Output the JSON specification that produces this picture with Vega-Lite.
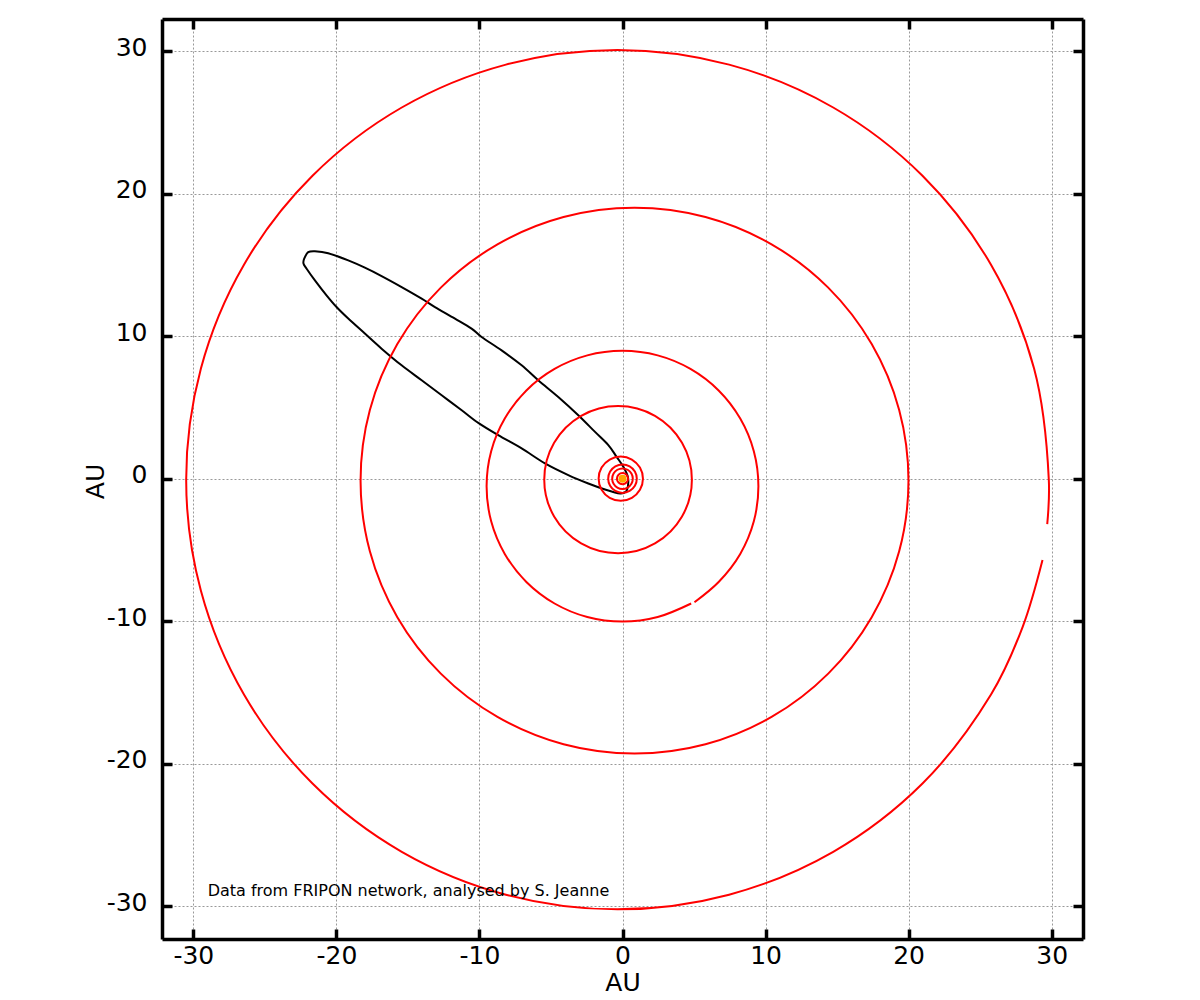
{
  "$schema": "https://vega.github.io/schema/vega-lite/v6.json",
  "description": "Heliocentric orbit of a FRIPON meteoroid with planetary orbits, in AU.",
  "width": 921,
  "height": 920,
  "autosize": {"type": "none"},
  "padding": {"left": 162, "top": 19, "right": 117, "bottom": 61},
  "background": "white",
  "config": {
    "view": {"stroke": null},
    "axis": {
      "domainColor": "black",
      "domainWidth": 3.5,
      "tickColor": "black",
      "tickWidth": 3.5,
      "tickSize": -10,
      "labelFont": "DejaVu Sans",
      "labelFontSize": 25,
      "labelColor": "black",
      "titleFont": "DejaVu Sans",
      "titleFontSize": 25,
      "titleFontWeight": "normal",
      "titleColor": "black",
      "gridColor": "#999999",
      "gridDash": [2, 2],
      "gridWidth": 1
    }
  },
  "datasets": {
    "meteoroid": [
      {"i": 1, "x": 0.38, "y": -0.53},
      {"i": 2, "x": 0.38, "y": 0.1},
      {"i": 3, "x": 0.06, "y": 0.83},
      {"i": 4, "x": -0.41, "y": 1.53},
      {"i": 5, "x": -0.99, "y": 2.35},
      {"i": 6, "x": -1.92, "y": 3.28},
      {"i": 7, "x": -3.09, "y": 4.45},
      {"i": 8, "x": -4.49, "y": 5.73},
      {"i": 9, "x": -5.89, "y": 6.9},
      {"i": 10, "x": -7.05, "y": 7.95},
      {"i": 11, "x": -8.45, "y": 9.0},
      {"i": 12, "x": -9.85, "y": 9.94},
      {"i": 13, "x": -10.55, "y": 10.53},
      {"i": 14, "x": -11.71, "y": 11.23},
      {"i": 15, "x": -13.11, "y": 12.04},
      {"i": 16, "x": -14.04, "y": 12.63},
      {"i": 17, "x": -15.44, "y": 13.44},
      {"i": 18, "x": -16.84, "y": 14.21},
      {"i": 19, "x": -18.01, "y": 14.8},
      {"i": 20, "x": -19.17, "y": 15.31},
      {"i": 21, "x": -20.57, "y": 15.82},
      {"i": 22, "x": -21.5, "y": 15.96},
      {"i": 23, "x": -21.97, "y": 15.89},
      {"i": 24, "x": -22.25, "y": 15.43},
      {"i": 25, "x": -22.3, "y": 15.1},
      {"i": 26, "x": -22.08, "y": 14.73},
      {"i": 27, "x": -21.5, "y": 13.91},
      {"i": 28, "x": -20.69, "y": 12.86},
      {"i": 29, "x": -19.99, "y": 12.04},
      {"i": 30, "x": -19.17, "y": 11.23},
      {"i": 31, "x": -18.01, "y": 10.18},
      {"i": 32, "x": -16.84, "y": 9.12},
      {"i": 33, "x": -15.44, "y": 7.95},
      {"i": 34, "x": -14.04, "y": 6.9},
      {"i": 35, "x": -12.64, "y": 5.85},
      {"i": 36, "x": -11.24, "y": 4.8},
      {"i": 37, "x": -10.08, "y": 3.91},
      {"i": 38, "x": -8.69, "y": 3.05},
      {"i": 39, "x": -7.05, "y": 2.12},
      {"i": 40, "x": -5.42, "y": 1.07},
      {"i": 41, "x": -3.79, "y": 0.25},
      {"i": 42, "x": -2.39, "y": -0.34},
      {"i": 43, "x": -1.22, "y": -0.76},
      {"i": 44, "x": -0.17, "y": -1.04},
      {"i": 45, "x": 0.25, "y": -0.9}
    ],
    "closedOrbits": [
      {"orbit": "Uranus", "i": 0, "x": 19.99, "y": -0.14},
      {"orbit": "Uranus", "i": 1, "x": 19.34, "y": 4.82},
      {"orbit": "Uranus", "i": 2, "x": 17.42, "y": 9.44},
      {"orbit": "Uranus", "i": 3, "x": 14.38, "y": 13.4},
      {"orbit": "Uranus", "i": 4, "x": 10.42, "y": 16.44},
      {"orbit": "Uranus", "i": 5, "x": 5.8, "y": 18.36},
      {"orbit": "Uranus", "i": 6, "x": 0.84, "y": 19.01},
      {"orbit": "Uranus", "i": 7, "x": -4.12, "y": 18.36},
      {"orbit": "Uranus", "i": 8, "x": -8.74, "y": 16.44},
      {"orbit": "Uranus", "i": 9, "x": -12.7, "y": 13.4},
      {"orbit": "Uranus", "i": 10, "x": -15.74, "y": 9.44},
      {"orbit": "Uranus", "i": 11, "x": -17.66, "y": 4.82},
      {"orbit": "Uranus", "i": 12, "x": -18.31, "y": -0.14},
      {"orbit": "Uranus", "i": 13, "x": -17.66, "y": -5.1},
      {"orbit": "Uranus", "i": 14, "x": -15.74, "y": -9.72},
      {"orbit": "Uranus", "i": 15, "x": -12.7, "y": -13.68},
      {"orbit": "Uranus", "i": 16, "x": -8.74, "y": -16.72},
      {"orbit": "Uranus", "i": 17, "x": -4.12, "y": -18.64},
      {"orbit": "Uranus", "i": 18, "x": 0.84, "y": -19.29},
      {"orbit": "Uranus", "i": 19, "x": 5.8, "y": -18.64},
      {"orbit": "Uranus", "i": 20, "x": 10.42, "y": -16.72},
      {"orbit": "Uranus", "i": 21, "x": 14.38, "y": -13.68},
      {"orbit": "Uranus", "i": 22, "x": 17.42, "y": -9.72},
      {"orbit": "Uranus", "i": 23, "x": 19.34, "y": -5.1},
      {"orbit": "Jupiter", "i": 0, "x": 4.85, "y": -0.07},
      {"orbit": "Jupiter", "i": 1, "x": 4.16, "y": 2.51},
      {"orbit": "Jupiter", "i": 2, "x": 2.27, "y": 4.4},
      {"orbit": "Jupiter", "i": 3, "x": -0.31, "y": 5.09},
      {"orbit": "Jupiter", "i": 4, "x": -2.89, "y": 4.4},
      {"orbit": "Jupiter", "i": 5, "x": -4.78, "y": 2.51},
      {"orbit": "Jupiter", "i": 6, "x": -5.47, "y": -0.07},
      {"orbit": "Jupiter", "i": 7, "x": -4.78, "y": -2.65},
      {"orbit": "Jupiter", "i": 8, "x": -2.89, "y": -4.54},
      {"orbit": "Jupiter", "i": 9, "x": -0.31, "y": -5.23},
      {"orbit": "Jupiter", "i": 10, "x": 2.27, "y": -4.54},
      {"orbit": "Jupiter", "i": 11, "x": 4.16, "y": -2.65},
      {"orbit": "Mars", "i": 0, "x": 1.43, "y": 0},
      {"orbit": "Mars", "i": 1, "x": 1.22, "y": 0.775},
      {"orbit": "Mars", "i": 2, "x": 0.655, "y": 1.342},
      {"orbit": "Mars", "i": 3, "x": -0.12, "y": 1.55},
      {"orbit": "Mars", "i": 4, "x": -0.895, "y": 1.342},
      {"orbit": "Mars", "i": 5, "x": -1.462, "y": 0.775},
      {"orbit": "Mars", "i": 6, "x": -1.67, "y": 0},
      {"orbit": "Mars", "i": 7, "x": -1.462, "y": -0.775},
      {"orbit": "Mars", "i": 8, "x": -0.895, "y": -1.342},
      {"orbit": "Mars", "i": 9, "x": -0.12, "y": -1.55},
      {"orbit": "Mars", "i": 10, "x": 0.655, "y": -1.342},
      {"orbit": "Mars", "i": 11, "x": 1.22, "y": -0.775},
      {"orbit": "Earth", "i": 0, "x": 1.0, "y": 0},
      {"orbit": "Earth", "i": 1, "x": 0.866, "y": 0.5},
      {"orbit": "Earth", "i": 2, "x": 0.5, "y": 0.866},
      {"orbit": "Earth", "i": 3, "x": 0, "y": 1.0},
      {"orbit": "Earth", "i": 4, "x": -0.5, "y": 0.866},
      {"orbit": "Earth", "i": 5, "x": -0.866, "y": 0.5},
      {"orbit": "Earth", "i": 6, "x": -1.0, "y": 0},
      {"orbit": "Earth", "i": 7, "x": -0.866, "y": -0.5},
      {"orbit": "Earth", "i": 8, "x": -0.5, "y": -0.866},
      {"orbit": "Earth", "i": 9, "x": 0, "y": -1.0},
      {"orbit": "Earth", "i": 10, "x": 0.5, "y": -0.866},
      {"orbit": "Earth", "i": 11, "x": 0.866, "y": -0.5},
      {"orbit": "Venus", "i": 0, "x": 0.72, "y": 0},
      {"orbit": "Venus", "i": 1, "x": 0.624, "y": 0.36},
      {"orbit": "Venus", "i": 2, "x": 0.36, "y": 0.624},
      {"orbit": "Venus", "i": 3, "x": 0, "y": 0.72},
      {"orbit": "Venus", "i": 4, "x": -0.36, "y": 0.624},
      {"orbit": "Venus", "i": 5, "x": -0.624, "y": 0.36},
      {"orbit": "Venus", "i": 6, "x": -0.72, "y": 0},
      {"orbit": "Venus", "i": 7, "x": -0.624, "y": -0.36},
      {"orbit": "Venus", "i": 8, "x": -0.36, "y": -0.624},
      {"orbit": "Venus", "i": 9, "x": 0, "y": -0.72},
      {"orbit": "Venus", "i": 10, "x": 0.36, "y": -0.624},
      {"orbit": "Venus", "i": 11, "x": 0.624, "y": -0.36},
      {"orbit": "Mercury", "i": 0, "x": 0.39, "y": 0},
      {"orbit": "Mercury", "i": 1, "x": 0.276, "y": 0.276},
      {"orbit": "Mercury", "i": 2, "x": 0, "y": 0.39},
      {"orbit": "Mercury", "i": 3, "x": -0.276, "y": 0.276},
      {"orbit": "Mercury", "i": 4, "x": -0.39, "y": 0},
      {"orbit": "Mercury", "i": 5, "x": -0.276, "y": -0.276},
      {"orbit": "Mercury", "i": 6, "x": 0, "y": -0.39},
      {"orbit": "Mercury", "i": 7, "x": 0.276, "y": -0.276}
    ],
    "openOrbits": [
      {"orbit": "Neptune", "i": 0, "x": 29.69, "y": -3.19},
      {"orbit": "Neptune", "i": 1, "x": 29.8, "y": -0.07},
      {"orbit": "Neptune", "i": 2, "x": 28.77, "y": 7.73},
      {"orbit": "Neptune", "i": 3, "x": 25.76, "y": 15.01},
      {"orbit": "Neptune", "i": 4, "x": 20.97, "y": 21.25},
      {"orbit": "Neptune", "i": 5, "x": 14.73, "y": 26.04},
      {"orbit": "Neptune", "i": 6, "x": 7.45, "y": 29.05},
      {"orbit": "Neptune", "i": 7, "x": -0.35, "y": 30.08},
      {"orbit": "Neptune", "i": 8, "x": -8.15, "y": 29.05},
      {"orbit": "Neptune", "i": 9, "x": -15.43, "y": 26.04},
      {"orbit": "Neptune", "i": 10, "x": -21.67, "y": 21.25},
      {"orbit": "Neptune", "i": 11, "x": -26.46, "y": 15.01},
      {"orbit": "Neptune", "i": 12, "x": -29.47, "y": 7.73},
      {"orbit": "Neptune", "i": 13, "x": -30.5, "y": -0.07},
      {"orbit": "Neptune", "i": 14, "x": -29.47, "y": -7.87},
      {"orbit": "Neptune", "i": 15, "x": -26.46, "y": -15.15},
      {"orbit": "Neptune", "i": 16, "x": -21.67, "y": -21.39},
      {"orbit": "Neptune", "i": 17, "x": -15.43, "y": -26.18},
      {"orbit": "Neptune", "i": 18, "x": -8.15, "y": -29.19},
      {"orbit": "Neptune", "i": 19, "x": -0.35, "y": -30.22},
      {"orbit": "Neptune", "i": 20, "x": 7.45, "y": -29.19},
      {"orbit": "Neptune", "i": 21, "x": 14.73, "y": -26.18},
      {"orbit": "Neptune", "i": 22, "x": 20.97, "y": -21.39},
      {"orbit": "Neptune", "i": 23, "x": 25.76, "y": -15.15},
      {"orbit": "Neptune", "i": 24, "x": 27.98, "y": -10.38},
      {"orbit": "Neptune", "i": 25, "x": 29.36, "y": -5.71},
      {"orbit": "Saturn", "i": 0, "x": 5.03, "y": -8.67},
      {"orbit": "Saturn", "i": 1, "x": 6.72, "y": -7.25},
      {"orbit": "Saturn", "i": 2, "x": 8.23, "y": -5.28},
      {"orbit": "Saturn", "i": 3, "x": 9.18, "y": -2.99},
      {"orbit": "Saturn", "i": 4, "x": 9.5, "y": -0.53},
      {"orbit": "Saturn", "i": 5, "x": 9.18, "y": 1.93},
      {"orbit": "Saturn", "i": 6, "x": 8.23, "y": 4.22},
      {"orbit": "Saturn", "i": 7, "x": 6.72, "y": 6.19},
      {"orbit": "Saturn", "i": 8, "x": 4.75, "y": 7.7},
      {"orbit": "Saturn", "i": 9, "x": 2.46, "y": 8.65},
      {"orbit": "Saturn", "i": 10, "x": 0, "y": 8.97},
      {"orbit": "Saturn", "i": 11, "x": -2.46, "y": 8.65},
      {"orbit": "Saturn", "i": 12, "x": -4.75, "y": 7.7},
      {"orbit": "Saturn", "i": 13, "x": -6.72, "y": 6.19},
      {"orbit": "Saturn", "i": 14, "x": -8.23, "y": 4.22},
      {"orbit": "Saturn", "i": 15, "x": -9.18, "y": 1.93},
      {"orbit": "Saturn", "i": 16, "x": -9.5, "y": -0.53},
      {"orbit": "Saturn", "i": 17, "x": -9.18, "y": -2.99},
      {"orbit": "Saturn", "i": 18, "x": -8.23, "y": -5.28},
      {"orbit": "Saturn", "i": 19, "x": -6.72, "y": -7.25},
      {"orbit": "Saturn", "i": 20, "x": -4.75, "y": -8.76},
      {"orbit": "Saturn", "i": 21, "x": -2.46, "y": -9.71},
      {"orbit": "Saturn", "i": 22, "x": 0, "y": -10.03},
      {"orbit": "Saturn", "i": 23, "x": 2.46, "y": -9.71},
      {"orbit": "Saturn", "i": 24, "x": 4.8, "y": -8.76}
    ],
    "sun": [{"x": 0, "y": 0}],
    "note": [{"x": -29, "y": -28.9, "label": "Data from FRIPON network, analysed by S. Jeanne"}]
  },
  "layer": [
    {
      "data": {"name": "meteoroid"},
      "mark": {"type": "line", "color": "black", "strokeWidth": 2, "interpolate": "cardinal-closed"},
      "encoding": {
        "x": {
          "field": "x", "type": "quantitative",
          "scale": {"domain": [-32.19, 32.19], "nice": false, "zero": false},
          "axis": {
            "orient": "bottom", "values": [-30, -20, -10, 0, 10, 20, 30],
            "labelExpr": "datum.value + ''",
            "title": "AU", "grid": true, "labelPadding": 14.5, "labelFlush": false,
            "titleBaseline": "alphabetic", "titleY": 51
          }
        },
        "y": {
          "field": "y", "type": "quantitative",
          "scale": {"domain": [-32.3, 32.25], "nice": false, "zero": false},
          "axis": {
            "orient": "left", "values": [-30, -20, -10, 0, 10, 20, 30],
            "labelExpr": "datum.value + ''",
            "title": "AU", "grid": true, "labelPadding": 25, "labelOffset": -4,
            "titleAngle": -90, "titleBaseline": "alphabetic", "titleAlign": "center",
            "titleX": -59, "titleY": 462
          }
        },
        "order": {"field": "i", "type": "quantitative"}
      }
    },
    {
      "data": {"name": "closedOrbits"},
      "mark": {"type": "line", "color": "#ff0000", "strokeWidth": 2, "interpolate": "cardinal-closed"},
      "encoding": {
        "x": {
          "field": "x", "type": "quantitative",
          "scale": {"domain": [-32.19, 32.19], "nice": false, "zero": false},
          "axis": {"orient": "top", "values": [-30, -20, -10, 0, 10, 20, 30], "labels": false, "grid": false, "title": null}
        },
        "y": {
          "field": "y", "type": "quantitative",
          "scale": {"domain": [-32.3, 32.25], "nice": false, "zero": false},
          "axis": {"orient": "right", "values": [-30, -20, -10, 0, 10, 20, 30], "labels": false, "grid": false, "title": null}
        },
        "detail": {"field": "orbit", "type": "nominal"},
        "order": {"field": "i", "type": "quantitative"}
      }
    },
    {
      "data": {"name": "openOrbits"},
      "mark": {"type": "line", "color": "#ff0000", "strokeWidth": 2, "interpolate": "catmull-rom"},
      "encoding": {
        "x": {"field": "x", "type": "quantitative", "scale": {"domain": [-32.19, 32.19], "nice": false, "zero": false}, "axis": null},
        "y": {"field": "y", "type": "quantitative", "scale": {"domain": [-32.3, 32.25], "nice": false, "zero": false}, "axis": null},
        "detail": {"field": "orbit", "type": "nominal"},
        "order": {"field": "i", "type": "quantitative"}
      }
    },
    {
      "data": {"name": "sun"},
      "mark": {"type": "point", "filled": true, "color": "#ffa500", "opacity": 1, "size": 64},
      "encoding": {
        "x": {"field": "x", "type": "quantitative", "scale": {"domain": [-32.19, 32.19], "nice": false, "zero": false}, "axis": null},
        "y": {"field": "y", "type": "quantitative", "scale": {"domain": [-32.3, 32.25], "nice": false, "zero": false}, "axis": null}
      }
    },
    {
      "data": {"name": "note"},
      "mark": {"type": "text", "align": "left", "baseline": "middle", "font": "DejaVu Sans", "fontSize": 16, "color": "black"},
      "encoding": {
        "x": {"field": "x", "type": "quantitative", "scale": {"domain": [-32.19, 32.19], "nice": false, "zero": false}, "axis": null},
        "y": {"field": "y", "type": "quantitative", "scale": {"domain": [-32.3, 32.25], "nice": false, "zero": false}, "axis": null},
        "text": {"field": "label", "type": "nominal"}
      }
    }
  ],
  "resolve": {"axis": {"x": "independent", "y": "independent"}}
}
